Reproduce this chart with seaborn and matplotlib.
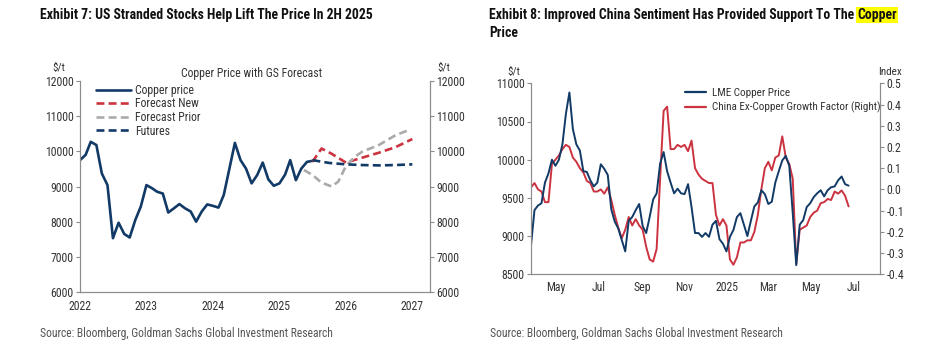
import matplotlib
matplotlib.use("Agg")
import matplotlib.pyplot as plt
import matplotlib.dates as mdates
from matplotlib import font_manager as fm
from matplotlib.lines import Line2D
import pandas as pd
import seaborn as sns

# Exhibit 7: monthly copper price ($/t) and GS forecasts
copper_months = pd.date_range("2022-01-01", "2025-07-01", freq="MS")
copper_price = [9750, 9900, 10270, 10180, 9370, 9040, 7530, 7970, 7650, 7550, 8050, 8430,
                9040, 8950, 8850, 8800, 8260, 8380, 8500, 8380, 8290, 8000, 8290, 8490,
                8450, 8400, 8760, 9510, 10240, 9750, 9510, 9090, 9330, 9680, 9200, 9020,
                9090, 9340, 9750, 9180, 9510, 9700, 9730]

fc_new_dates = pd.to_datetime(["2025-07-01", "2025-08-20", "2025-10-15", "2026-01-01",
                               "2026-04-01", "2026-07-01", "2026-10-01", "2027-01-01"])
fc_new = [9700, 10080, 9930, 9680, 9820, 9960, 10120, 10350]

fc_prior_dates = pd.to_datetime(["2025-05-15", "2025-07-01", "2025-08-20", "2025-10-15",
                                 "2025-11-20", "2026-01-01", "2026-02-20", "2026-04-01",
                                 "2026-07-01", "2026-10-01", "2026-12-20"])
fc_prior = [9470, 9330, 9110, 9000, 9140, 9580, 9850, 9990, 10180, 10460, 10620]

fut_dates = pd.to_datetime(["2025-07-01", "2025-10-01", "2026-01-01", "2026-04-01",
                            "2026-07-01", "2026-10-01", "2027-01-01"])
futures = [9750, 9670, 9630, 9610, 9600, 9610, 9630]

# Exhibit 8: LME copper vs China ex-copper growth factor (every 5 days)
lme_copper = [8880, 9340, 9400, 9430, 9700, 9820, 10000, 9920, 10000, 10200,
              10600, 10880, 10400, 10200, 10120, 9850, 9840, 9730, 9650, 9700,
              9940, 9880, 9800, 9350, 9190, 9100, 8950, 8800, 9200, 9250,
              9340, 9420, 9130, 9040, 9250, 9480, 9560, 9950, 10100, 9850,
              9700, 9560, 9620, 9560, 9550, 9680, 9380, 9040, 9040, 8990,
              9040, 8990, 9150, 9200, 8960, 8900, 8800, 8990, 9080, 9250,
              9300, 9150, 9000, 9200, 9390, 9440, 9600, 9550, 9420, 9450,
              9700, 9850, 9990, 10050, 9920, 9300, 8620, 9150, 9210, 9380,
              9430, 9510, 9560, 9600, 9520, 9600, 9640, 9650, 9730, 9780,
              9680, 9660]
china_factor = [0.01, 0.03, 0.00, -0.01, -0.06, -0.06, 0.12, 0.14, 0.16, 0.19,
                0.21, 0.20, 0.15, 0.13, 0.10, 0.08, 0.04, 0.03, -0.01, -0.01,
                0.00, -0.02, 0.01, -0.05, -0.12, -0.18, -0.23, -0.19, -0.13, -0.17,
                -0.14, -0.17, -0.19, -0.27, -0.33, -0.34, -0.28, 0.05, 0.37, 0.39,
                0.19, 0.19, 0.21, 0.20, 0.21, 0.18, 0.23, 0.10, 0.07, 0.05,
                0.04, 0.03, 0.03, -0.12, -0.17, -0.14, -0.17, -0.33, -0.355, -0.32,
                -0.25, -0.25, -0.24, -0.24, -0.20, -0.12, 0.00, 0.10, 0.13, 0.09,
                0.15, 0.16, 0.25, 0.15, 0.12, 0.05, -0.35, -0.19, -0.18, -0.17,
                -0.13, -0.11, -0.10, -0.065, -0.06, -0.045, -0.05, -0.01, -0.02, -0.005,
                -0.03, -0.08]
lme_dates = pd.date_range("2024-03-26", periods=len(lme_copper), freq="5D")


def pick_narrow():
    # the reference uses narrow type; take a condensed face if one is installed
    prefs = ["Liberation Sans Narrow", "Arial Narrow", "Roboto Condensed", "Open Sans Condensed",
             "Noto Sans", "DejaVu Sans", "Roboto", "Open Sans"]
    found = []
    for f in fm.fontManager.ttflist:
        base = f.fname.split("/")[-1]
        narrow = ("Narrow" in f.name or "Condensed" in f.name or f.stretch == "condensed"
                  or ("Condensed" in base and "Semi" not in base and "Extra" not in base))
        if narrow and f.style == "normal" and f.name in prefs:
            found.append((prefs.index(f.name), f.name, f.stretch))
    if found:
        found.sort()
        return found[0][1], found[0][2]
    return "Liberation Sans", "normal"


sns.set_style("white")
fam, stretch = pick_narrow()
plt.rcParams["font.family"] = [fam, "DejaVu Sans"]
plt.rcParams["font.stretch"] = stretch
plt.rcParams["axes.unicode_minus"] = False

NAVY = "#123a66"
RED = "#cc3340"
GREY = "#aaaaaa"
SPINE = "#8c8c8c"
TXT = "#333333"
W, H = 931, 352

fig = plt.figure(figsize=(W / 100, H / 100), dpi=100)


def px(x, y):
    return x / W, 1 - y / H


def fit(txt, width):
    # shrink or grow a text so it spans the same pixels as in the reference
    fig.canvas.draw()
    w = txt.get_window_extent().width
    txt.set_fontsize(txt.get_fontsize() * width / w)


def style_axes(ax):
    for s in ["left", "right", "bottom"]:
        ax.spines[s].set_color(SPINE)
        ax.spines[s].set_linewidth(0.8)
    ax.spines["top"].set_visible(False)
    ax.tick_params(axis="both", direction="out", length=3, width=0.8, color=SPINE,
                   labelsize=8.5, labelcolor=TXT, pad=1.5)


# ---------- Exhibit 7 ----------
ax1 = fig.add_axes([80 / W, 1 - 292 / H, 350 / W, 211 / H])
ax1r = ax1.twinx()
dash = (0, (3, 1.6))
sns.lineplot(x=copper_months, y=copper_price, ax=ax1, color=NAVY, lw=1.9)
sns.lineplot(x=fc_new_dates, y=fc_new, ax=ax1, color=RED, lw=1.9, linestyle=dash)
sns.lineplot(x=fc_prior_dates, y=fc_prior, ax=ax1, color=GREY, lw=1.9, linestyle=dash)
sns.lineplot(x=fut_dates, y=futures, ax=ax1, color=NAVY, lw=1.9, linestyle=dash)

ax1.set_xlim(pd.Timestamp("2022-01-01"), pd.Timestamp("2027-04-08"))
for a in (ax1, ax1r):
    a.set_ylim(6000, 12000)
    a.set_yticks(range(6000, 12001, 1000))
    style_axes(a)
    a.set_ylabel("")
ax1.set_xlabel("")
ax1.xaxis.set_major_locator(mdates.YearLocator())
ax1.xaxis.set_major_formatter(mdates.DateFormatter("%Y"))
ax1.tick_params(axis="x", pad=3)

handles = [Line2D([], [], color=NAVY, lw=1.9),
           Line2D([], [], color=RED, lw=1.9, linestyle=dash),
           Line2D([], [], color=GREY, lw=1.9, linestyle=dash),
           Line2D([], [], color=NAVY, lw=1.9, linestyle=dash)]
ax1.legend(handles, ["Copper price", "Forecast New", "Forecast Prior", "Futures"],
           loc="upper left", bbox_to_anchor=(0.03, 1.015), frameon=False, fontsize=8.5,
           handlelength=2.9, handletextpad=0.35, labelspacing=0.05, borderaxespad=0.1,
           labelcolor=TXT)

fig.text(*px(252, 73), "Copper Price with GS Forecast", ha="center", va="center",
         fontsize=8.5, color=TXT)
fig.text(*px(59, 68), "$/t", ha="center", va="center", fontsize=8, color=TXT)
fig.text(*px(437, 68), "$/t", ha="left", va="center", fontsize=8, color=TXT)

# ---------- Exhibit 8 ----------
ax3 = fig.add_axes([531 / W, 1 - 274.3 / H, 349 / W, 191 / H])
ax3r = ax3.twinx()
sns.lineplot(x=lme_dates, y=lme_copper, ax=ax3, color=NAVY, lw=1.4)
sns.lineplot(x=lme_dates, y=china_factor, ax=ax3r, color=RED, lw=1.4)
ax3.set_zorder(ax3r.get_zorder() + 1)
ax3.patch.set_visible(False)

ax3.set_xlim(pd.Timestamp("2024-03-26"), pd.Timestamp("2025-08-08"))
ax3.set_ylim(8500, 11000)
ax3.set_yticks(range(8500, 11001, 500))
ax3r.set_ylim(-0.4, 0.5)
ax3r.set_yticks([round(-0.4 + 0.1 * i, 1) for i in range(10)])
ax3r.set_yticklabels([f"{-0.4 + 0.1 * i:.1f}" for i in range(10)])
for a in (ax3, ax3r):
    style_axes(a)
    a.set_ylabel("")
ax3.set_xlabel("")
ax3.xaxis.set_major_locator(mdates.MonthLocator(bymonth=[1, 3, 5, 7, 9, 11]))
ax3.xaxis.set_major_formatter(
    plt.FuncFormatter(lambda v, _: mdates.num2date(v).strftime("%Y") if mdates.num2date(v).month == 1
                      else mdates.num2date(v).strftime("%b")))
ax3.tick_params(axis="x", pad=1.5)

h8 = [Line2D([], [], color=NAVY, lw=1.6), Line2D([], [], color=RED, lw=1.6)]
ax3.legend(h8, ["LME Copper Price", "China Ex-Copper Growth Factor (Right)"],
           loc="upper left", bbox_to_anchor=(0.425, 1.005), frameon=False, fontsize=8,
           handlelength=1.9, handletextpad=0.5, labelspacing=0.35, borderaxespad=0.1,
           labelcolor=TXT)
fig.text(*px(514, 72), "$/t", ha="center", va="center", fontsize=8, color=TXT)
fig.text(*px(890, 72), "Index", ha="center", va="center", fontsize=8, color=TXT)

# ---------- titles and sources ----------
title_kw = dict(fontsize=11, fontweight="bold", color="#111111", va="center", ha="left")
t7 = fig.text(*px(40, 15), "Exhibit 7: US Stranded Stocks Help Lift The Price In 2H 2025", **title_kw)
fit(t7, 334)
title_kw["fontsize"] = t7.get_fontsize()
t8 = fig.text(*px(489, 15), "Exhibit 8: Improved China Sentiment Has Provided Support To The ",
              **title_kw)
fig.text(*px(489, 33), "Price", **title_kw)
fig.canvas.draw()
bb = t8.get_window_extent()
fig.text(bb.x1 / W, 1 - 15 / H, "Copper", **title_kw,
         bbox=dict(facecolor="#ffff00", edgecolor="none", pad=0.6))

src = "Source: Bloomberg, Goldman Sachs Global Investment Research"
s1 = fig.text(*px(40, 333), src, fontsize=8, color="#555555", va="center", ha="left")
fit(s1, 295)
fig.text(*px(490, 333), src, fontsize=s1.get_fontsize(), color="#555555", va="center", ha="left")

fig.savefig("out.png", dpi=100)
